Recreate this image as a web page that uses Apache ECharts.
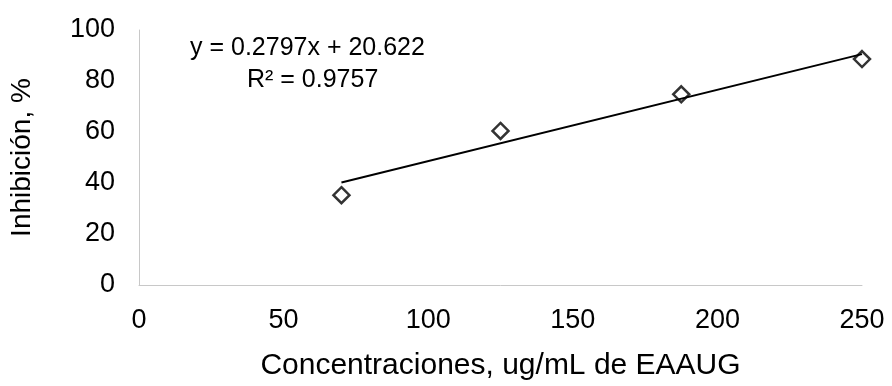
<!DOCTYPE html>
<html><head><meta charset="utf-8">
<script src="https://cdn.jsdelivr.net/npm/echarts@6/dist/echarts.min.js"></script>
<style>html,body{margin:0;padding:0;background:#fff}#c{width:892px;height:386px}</style>
</head><body><div id="c"></div>
<script>
const concentrations = [70, 125, 187.5, 250];
const inhibition = [35.2, 60.4, 74.8, 88.6];
const trendSlope = 0.2797;
const trendIntercept = 20.622;
const xTicks = [0, 50, 100, 150, 200, 250];
const yTicks = [0, 20, 40, 60, 80, 100];
const equationText = 'y = 0.2797x + 20.622';
const r2Text = 'R² = 0.9757';

const font = 'Liberation Sans, Arial, sans-serif';
const xs = [concentrations[0], concentrations[concentrations.length - 1]];
const trend = xs.map(x => [x, trendSlope * x + trendIntercept]);

const chart = echarts.init(document.getElementById('c'));
chart.setOption({
  animation: false,
  grid: {left: 129, right: 30, top: 30, bottom: 93, containLabel: false},
  xAxis: {
    type: 'value', min: 0, max: 250, interval: 50,
    name: 'Concentraciones, ug/mL de EAAUG', nameLocation: 'middle', nameGap: 66,
    nameTextStyle: {fontFamily: font, fontSize: 30, color: '#000'},
    axisLine: {show: true, lineStyle: {color: '#c8c8c8', width: 1}},
    axisTick: {show: false},
    splitLine: {show: false},
    axisLabel: {fontFamily: font, fontSize: 27, color: '#000', margin: 22,
      formatter: v => xTicks.includes(v) ? String(v) : ''}
  },
  yAxis: {
    type: 'value', min: 0, max: 100, interval: 20,
    name: 'Inhibición, %', nameLocation: 'middle', nameGap: 103,
    nameTextStyle: {fontFamily: font, fontSize: 28, color: '#000'},
    axisLine: {show: true, lineStyle: {color: '#c8c8c8', width: 1}},
    axisTick: {show: false},
    splitLine: {show: false},
    axisLabel: {fontFamily: font, fontSize: 27, color: '#000', margin: 24,
      formatter: v => yTicks.includes(v) ? String(v) : ''}
  },
  series: [
    {
      type: 'line', data: trend, symbol: 'none', silent: true,
      lineStyle: {color: '#000', width: 2}
    },
    {
      type: 'scatter', data: concentrations.map((x, i) => [x, inhibition[i]]),
      symbol: 'diamond', symbolSize: [16, 16],
      itemStyle: {color: '#fff', borderColor: '#000', borderWidth: 2.5}
    }
  ],
  graphic: [
    {type: 'text', left: 190, top: 36, style: {text: equationText, font: '25px ' + font, fill: '#000'}},
    {type: 'text', left: 247, top: 68, style: {text: r2Text, font: '25px ' + font, fill: '#000'}}
  ]
});
</script></body></html>
